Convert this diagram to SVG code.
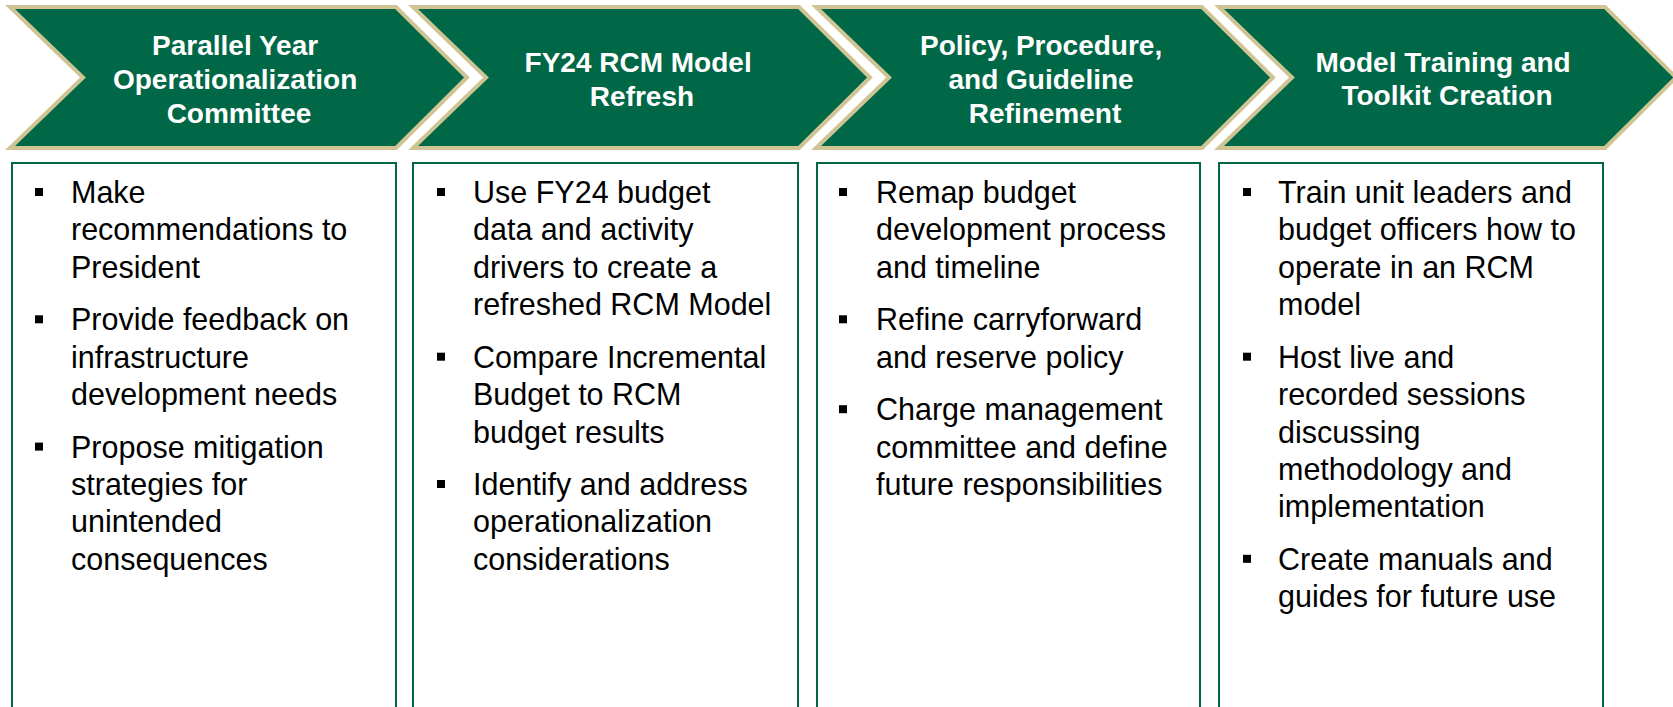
<svg xmlns="http://www.w3.org/2000/svg" width="1673" height="707" viewBox="0 0 1673 707">
  <defs>
    <style>
      .chev { fill: #006747; stroke: #CFC493; stroke-width: 4; stroke-linejoin: miter; }
      .head { font-family: "Liberation Sans", Arial, sans-serif; font-weight: bold; font-size: 28px; fill: #ffffff; text-anchor: middle; }
      .box { fill: #ffffff; stroke: #006747; stroke-width: 2; }
      .body { font-family: "Liberation Sans", Arial, sans-serif; font-size: 30.5px; fill: #000000; }
      .bul { fill: #000000; }
    </style>
    <!-- chevron outline, placed per step with translate -->
    <polygon id="chevron" points="0,7 386,7 457,77.5 386,148 0,148 73,77.5"/>
    <rect id="bullet" width="8" height="8"/>
  </defs>
  <rect width="1673" height="707" fill="#ffffff"/>

  <!-- Step 1 -->
  <g id="step1">
    <use href="#chevron" class="chev" x="10"/>
    <text class="head">
      <tspan x="239" y="55">Parallel Year</tspan>
      <tspan x="239" y="89">Operationalization</tspan>
      <tspan x="239" y="123">Committee</tspan>
    </text>
    <rect class="box" x="12" y="163" width="384" height="560"/>
    <use href="#bullet" class="bul" x="35" y="188"/>
    <use href="#bullet" class="bul" x="35" y="315.3"/>
    <use href="#bullet" class="bul" x="35" y="442.6"/>
    <text class="body">
      <tspan x="71" y="203">Make</tspan>
      <tspan x="71" y="240.4">recommendations to</tspan>
      <tspan x="71" y="277.8">President</tspan>
      <tspan x="71" y="330.3">Provide feedback on</tspan>
      <tspan x="71" y="367.7">infrastructure</tspan>
      <tspan x="71" y="405.1">development needs</tspan>
      <tspan x="71" y="457.6">Propose mitigation</tspan>
      <tspan x="71" y="495">strategies for</tspan>
      <tspan x="71" y="532.4">unintended</tspan>
      <tspan x="71" y="569.8">consequences</tspan>
    </text>
  </g>

  <!-- Step 2 -->
  <g id="step2">
    <use href="#chevron" class="chev" x="413"/>
    <text class="head">
      <tspan x="642" y="72">FY24 RCM Model</tspan>
      <tspan x="642" y="106">Refresh</tspan>
    </text>
    <rect class="box" x="413" y="163" width="385" height="560"/>
    <use href="#bullet" class="bul" x="437" y="188"/>
    <use href="#bullet" class="bul" x="437" y="352.7"/>
    <use href="#bullet" class="bul" x="437" y="480"/>
    <text class="body">
      <tspan x="473" y="203">Use FY24 budget</tspan>
      <tspan x="473" y="240.4">data and activity</tspan>
      <tspan x="473" y="277.8">drivers to create a</tspan>
      <tspan x="473" y="315.2">refreshed RCM Model</tspan>
      <tspan x="473" y="367.7">Compare Incremental</tspan>
      <tspan x="473" y="405.1">Budget to RCM</tspan>
      <tspan x="473" y="442.5">budget results</tspan>
      <tspan x="473" y="495">Identify and address</tspan>
      <tspan x="473" y="532.4">operationalization</tspan>
      <tspan x="473" y="569.8">considerations</tspan>
    </text>
  </g>

  <!-- Step 3 -->
  <g id="step3">
    <use href="#chevron" class="chev" x="816"/>
    <text class="head">
      <tspan x="1045" y="55">Policy, Procedure,</tspan>
      <tspan x="1045" y="89">and Guideline</tspan>
      <tspan x="1045" y="123">Refinement</tspan>
    </text>
    <rect class="box" x="817" y="163" width="383" height="560"/>
    <use href="#bullet" class="bul" x="839" y="188"/>
    <use href="#bullet" class="bul" x="839" y="315.3"/>
    <use href="#bullet" class="bul" x="839" y="405.2"/>
    <text class="body">
      <tspan x="876" y="203">Remap budget</tspan>
      <tspan x="876" y="240.4">development process</tspan>
      <tspan x="876" y="277.8">and timeline</tspan>
      <tspan x="876" y="330.3">Refine carryforward</tspan>
      <tspan x="876" y="367.7">and reserve policy</tspan>
      <tspan x="876" y="420.2">Charge management</tspan>
      <tspan x="876" y="457.6">committee and define</tspan>
      <tspan x="876" y="495">future responsibilities</tspan>
    </text>
  </g>

  <!-- Step 4 -->
  <g id="step4">
    <use href="#chevron" class="chev" x="1219"/>
    <text class="head">
      <tspan x="1447" y="72">Model Training and</tspan>
      <tspan x="1447" y="105">Toolkit Creation</tspan>
    </text>
    <rect class="box" x="1219" y="163" width="384" height="560"/>
    <use href="#bullet" class="bul" x="1243" y="188"/>
    <use href="#bullet" class="bul" x="1243" y="352.7"/>
    <use href="#bullet" class="bul" x="1243" y="554.8"/>
    <text class="body">
      <tspan x="1278" y="203">Train unit leaders and</tspan>
      <tspan x="1278" y="240.4">budget officers how to</tspan>
      <tspan x="1278" y="277.8">operate in an RCM</tspan>
      <tspan x="1278" y="315.2">model</tspan>
      <tspan x="1278" y="367.7">Host live and</tspan>
      <tspan x="1278" y="405.1">recorded sessions</tspan>
      <tspan x="1278" y="442.5">discussing</tspan>
      <tspan x="1278" y="479.9">methodology and</tspan>
      <tspan x="1278" y="517.3">implementation</tspan>
      <tspan x="1278" y="569.8">Create manuals and</tspan>
      <tspan x="1278" y="607.2">guides for future use</tspan>
    </text>
  </g>

  <!-- no connectors between steps; the chevrons carry the flow -->
  <g id="connectors"/>
</svg>
